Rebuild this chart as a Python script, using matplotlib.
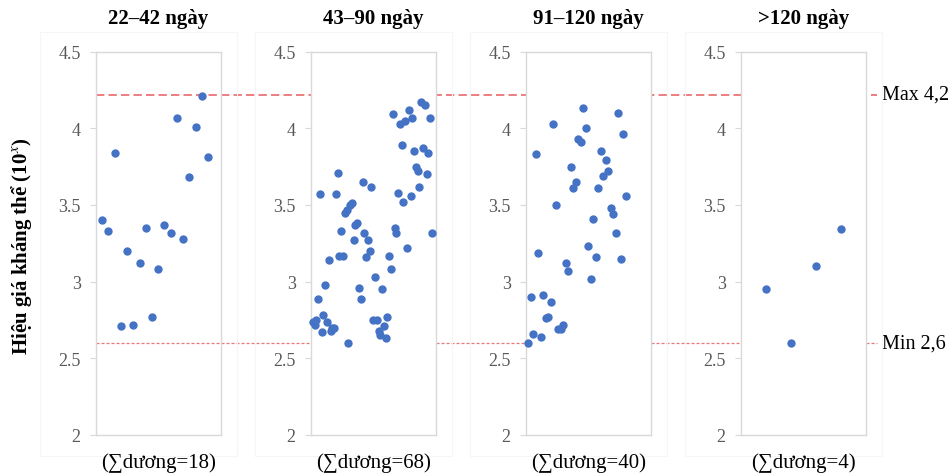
"""
Antibody titre by days since vaccination: 4 strip panels + Max/Min reference lines.
"""

import matplotlib
matplotlib.use("Agg")
import matplotlib.pyplot as plt
import matplotlib.transforms as mtransforms
from matplotlib.patches import Rectangle

plt.rcParams["font.family"] = ["Liberation Serif", "DejaVu Serif"]
plt.rcParams["mathtext.fontset"] = "stix"
plt.rcParams["lines.scale_dashes"] = False

GROUPS = ["22–42 ngày", "43–90 ngày", "91–120 ngày", ">120 ngày"]
COUNTS = ["(∑dương=18)", "(∑dương=68)", "(∑dương=40)", "(∑dương=4)"]
X_MAX = [20, 70, 50, 5]   # excel's auto x-range for each panel

g1 = [3.40, 3.33, 3.84, 2.71, 3.20, 2.72, 3.12, 3.35, 2.77, 3.08, 3.37, 3.32,
      4.07, 3.28, 3.68, 4.01, 4.21, 3.81]
g2 = [2.74, 2.72, 2.75, 2.89, 3.57, 2.67, 2.78, 2.98, 2.74, 3.14,
      2.68, 2.70, 2.70, 3.57, 3.71, 3.17, 3.33, 3.17, 3.45, 3.47,
      2.60, 3.50, 3.51, 3.27, 3.37, 3.38, 2.96, 2.89, 3.65, 3.32,
      3.16, 3.27, 3.20, 3.62, 2.75, 3.03, 2.75, 2.68, 2.65, 2.95,
      2.71, 2.63, 2.77, 3.17, 3.08, 4.09, 3.35, 3.32, 3.58, 4.03,
      3.89, 3.52, 4.05, 3.22, 4.12, 3.56, 4.07, 3.85, 3.75, 3.72,
      3.62, 4.17, 3.87, 4.15, 3.70, 3.84, 4.07, 3.32]
g3 = [2.60, 2.90, 2.66, 3.83, 3.19, 2.64, 2.91, 2.76, 2.77, 2.87,
      4.03, 3.50, 2.69, 2.69, 2.72, 3.12, 3.07, 3.75, 3.61, 3.65,
      3.93, 3.91, 4.13, 4.00, 3.23, 3.02, 3.41, 3.16, 3.61, 3.85,
      3.69, 3.79, 3.72, 3.48, 3.44, 3.32, 4.10, 3.15, 3.96, 3.56]
g4 = [2.95, 2.60, 3.10, 3.34]
VALUES = [g1, g2, g3, g4]

Y_TICKS = [2, 2.5, 3, 3.5, 4, 4.5]
Y_TICK_LABELS = ["2", "2.5", "3", "3.5", "4", "4.5"]
MAX_LINE, MIN_LINE = 4.22, 2.6
MAX_LABEL, MIN_LABEL = "Max 4,2", "Min 2,6"

W, H = 952, 477
BLUE = "#4472C4"
GREY = "#595959"


def main():
    fig = plt.figure(figsize=(W / 100, H / 100), dpi=100)
    left0, step, aw = 96, 215, 124.5
    top, bottom = 52.6, 436
    axes = []
    for i, (vals, xmax) in enumerate(zip(VALUES, X_MAX)):
        x0 = left0 + i * step
        # faint excel chart-area frame
        fig.add_artist(Rectangle(((x0 - 56) / W, (H - 457) / H), 197 / W, 424 / H,
                                 transform=fig.transFigure, fill=False,
                                 ec="#F6F6F6", lw=0.8))
        ax = fig.add_axes([x0 / W, (H - bottom) / H, aw / W, (bottom - top) / H])
        xs = list(range(1, len(vals) + 1))
        ax.scatter(xs, vals, s=36, color=BLUE, linewidths=0, zorder=3, clip_on=False)
        ax.set_xlim(0, xmax)
        ax.set_ylim(2, 4.5)
        ax.set_xticks([])
        ax.set_yticks(Y_TICKS)
        ax.set_yticklabels(Y_TICK_LABELS)
        ax.tick_params(axis="y", length=4, width=0.8, color="#D9D9D9", pad=7,
                       labelsize=13, labelcolor=GREY)
        for sp in ax.spines.values():
            sp.set_color("#D9D9D9")
            sp.set_linewidth(1.0)
        cx = (x0 + aw / 2) / W
        fig.text(cx, 1 - 19 / H, GROUPS[i], ha="center", va="center",
                 fontsize=15, fontweight="bold")
        fig.text(cx, 1 - 463 / H, COUNTS[i], ha="center", va="center", fontsize=15)
        axes.append(ax)

    # reference lines run across all panels
    tr = mtransforms.blended_transform_factory(fig.transFigure, axes[0].transData)
    xa, xb = 96 / W, 877 / W
    axes[0].plot([xa, xb], [MAX_LINE] * 2, transform=tr, clip_on=False, color="#E5484D",
                 lw=1.1, dashes=(6, 3), zorder=2, alpha=0.9)
    axes[0].plot([xa, xb], [MIN_LINE] * 2, transform=tr, clip_on=False, color="#E46A6D",
                 lw=0.9, dashes=(2.2, 1.4), zorder=2, alpha=0.9)
    axes[0].text(882 / W, MAX_LINE, MAX_LABEL, transform=tr, ha="left", va="center",
                 fontsize=14.5)
    axes[0].text(882 / W, MIN_LINE, MIN_LABEL, transform=tr, ha="left", va="center",
                 fontsize=14.5)

    fig.text(22 / W, 1 - 246 / H, "Hiệu giá kháng thể (10$^{x}$)", rotation=90,
             ha="center", va="center", fontsize=15, fontweight="bold")

    fig.savefig("out.png", dpi=100)
    plt.close(fig)


if __name__ == "__main__":
    main()
